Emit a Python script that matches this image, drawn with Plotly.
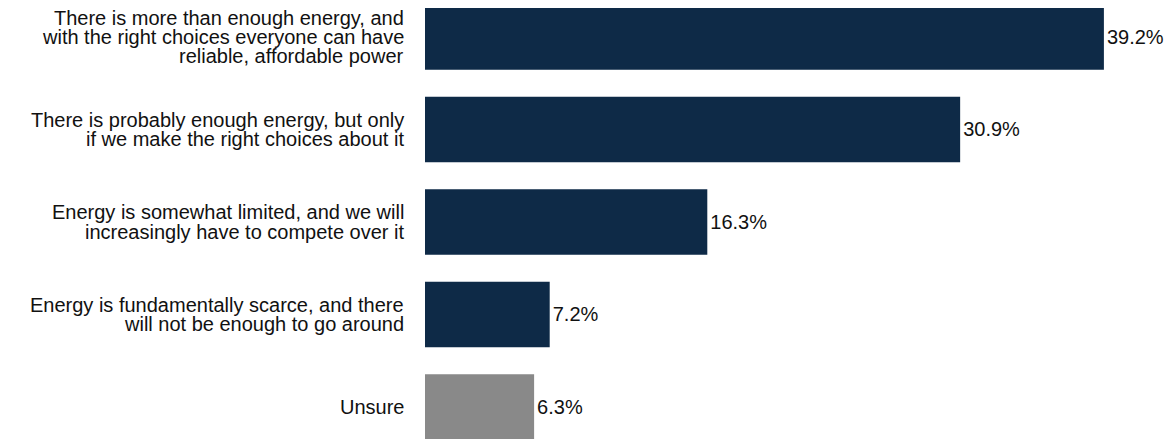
import plotly.graph_objects as go

categories = [
    "There is more than enough energy, and<br>with the right choices everyone can have<br>reliable, affordable power",
    "There is probably enough energy, but only<br>if we make the right choices about it",
    "Energy is somewhat limited, and we will<br>increasingly have to compete over it",
    "Energy is fundamentally scarce, and there<br>will not be enough to go around",
    "Unsure",
]
values = [39.2, 30.9, 16.3, 7.2, 6.3]
colors = ["#0E2A47", "#0E2A47", "#0E2A47", "#0E2A47", "#898989"]

FONT = "Liberation Sans, Arial, sans-serif"
LINE_PITCH = 19.3

fig = go.Figure(
    go.Bar(
        x=values,
        y=categories,
        orientation="h",
        marker=dict(color=colors, line=dict(width=0)),
        width=0.71,
        text=[f"{v:.1f}%" for v in values],
        textposition="outside",
        textfont=dict(family=FONT, size=20, color="#111111"),
        cliponaxis=False,
        hoverinfo="skip",
    )
)

annotations = []
for cat in categories:
    lines = cat.split("<br>")
    mid = (len(lines) - 1) / 2
    for i, line in enumerate(lines):
        annotations.append(
            dict(
                x=0, y=cat, xref="x", yref="y",
                text=line, showarrow=False,
                xanchor="right", yanchor="middle", align="right",
                xshift=-19, yshift=(mid - i) * LINE_PITCH,
                font=dict(family=FONT, size=20, color="#111111"),
            )
        )

fig.update_layout(
    width=1165, height=431,
    margin=dict(l=417, r=0, t=0, b=0),
    paper_bgcolor="white", plot_bgcolor="white",
    showlegend=False,
    annotations=annotations,
    xaxis=dict(range=[0, 43.19], visible=False, fixedrange=True),
    yaxis=dict(
        type="category",
        categoryorder="array",
        categoryarray=categories,
        range=[4.346, -0.3135],
        showticklabels=False, showgrid=False, zeroline=False,
        fixedrange=True,
    ),
)

fig.write_html("out.html")
